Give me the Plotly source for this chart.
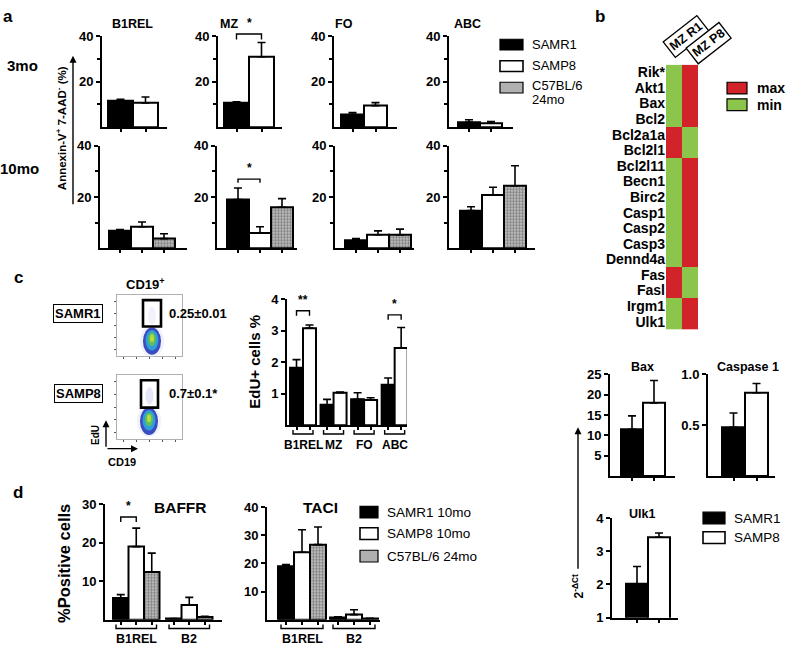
import plotly.graph_objects as go

W, H = 785, 655
FONT = "Liberation Sans"
GREEN, RED = "#8cc54b", "#d2232a"

# ---------------- data ----------------
a_cells = ["B1REL", "MZ", "FO", "ABC"]
a3_samr1 = [11.6, 10.7, 5.6, 2.2]
a3_samr1_err = [0.7, 0.5, 0.8, 1.1]
a3_samp8 = [10.7, 31.0, 9.5, 1.7]
a3_samp8_err = [2.6, 6.3, 1.3, 0.8]
a10_samr1 = [6.9, 19.0, 3.2, 14.7]
a10_samr1_err = [0.4, 4.5, 0.6, 1.5]
a10_samp8 = [8.4, 6.0, 5.3, 20.8]
a10_samp8_err = [1.9, 2.4, 1.5, 3.0]
a10_c57 = [3.8, 16.0, 5.3, 24.4]
a10_c57_err = [1.9, 3.4, 2.2, 7.8]
a_yticks = [20, 40]
a_minor = [10, 30]

genes = ["Rik*", "Akt1", "Bax", "Bcl2", "Bcl2a1a", "Bcl2l1", "Bcl2l11", "Becn1", "Birc2",
         "Casp1", "Casp2", "Casp3", "Dennd4a", "Fas", "Fasl", "Irgm1", "Ulk1"]
mz_r1 = [0, 0, 0, 0, 1, 1, 0, 0, 0, 0, 0, 0, 0, 1, 1, 0, 0]
mz_p8 = [1, 1, 1, 1, 0, 0, 1, 1, 1, 1, 1, 1, 1, 0, 0, 1, 1]
heat_cols = ["MZ R1", "MZ P8"]

c_cells = ["B1REL", "MZ", "FO", "ABC"]
c_samr1 = [1.82, 0.65, 0.82, 1.28]
c_samr1_err = [0.26, 0.17, 0.21, 0.22]
c_samp8 = [3.08, 1.03, 0.80, 2.45]
c_samp8_err = [0.10, 0.02, 0.07, 0.65]
c_yticks = [1, 2, 3, 4]
flow_text = ["0.25±0.01", "0.7±0.1*"]
flow_names = ["SAMR1", "SAMP8"]

d_cells = ["B1REL", "B2"]
baffr_samr1 = [5.6, 0.3]
baffr_samr1_err = [0.9, 0.0]
baffr_samp8 = [19.0, 3.8]
baffr_samp8_err = [4.8, 2.0]
baffr_c57 = [12.4, 0.7]
baffr_c57_err = [4.9, 0.15]
taci_samr1 = [19.0, 0.8]
taci_samr1_err = [0.6, 0.2]
taci_samp8 = [24.0, 1.8]
taci_samp8_err = [8.0, 1.7]
taci_c57 = [26.7, 0.4]
taci_c57_err = [6.3, 0.1]

bax = [11.5, 18.0]
bax_err = [3.3, 5.5]
casp1 = [0.48, 0.82]
casp1_err = [0.14, 0.09]
ulk1 = [2.02, 3.42]
ulk1_err = [0.52, 0.13]

# ---------------- helpers ----------------
fig = go.Figure()
shapes, annots, axes = [], [], {}
_n = [0]


def PX(x):
    return x / W


def PY(y):
    return 1 - y / H


def text(x, y, s, size=12, bold=True, xanchor="center", yanchor="middle", angle=0, **kw):
    annots.append(dict(x=PX(x), y=PY(y), xref="paper", yref="paper", text=s, showarrow=False,
                       xanchor=xanchor, yanchor=yanchor, textangle=angle,
                       font=dict(family=FONT, size=size, color="black",
                                 weight="bold" if bold else "normal"), **kw))


def arrow(x, y, ax, ay):
    annots.append(dict(x=PX(x), y=PY(y), xref="paper", yref="paper", ax=ax, ay=ay, text="",
                       showarrow=True, arrowhead=2, arrowsize=1, arrowwidth=1.4, arrowcolor="black"))


def rect(x0, y0, x1, y1, fill, line="black", lw=1.2):
    shapes.append(dict(type="rect", xref="paper", yref="paper", x0=PX(x0), x1=PX(x1),
                       y0=PY(y1), y1=PY(y0), fillcolor=fill, line=dict(color=line, width=lw)))


def path(points, lw=1.5, color="black"):
    d = "M " + " L ".join(f"{PX(x):.5f},{PY(y):.5f}" for x, y in points)
    shapes.append(dict(type="path", path=d, xref="paper", yref="paper",
                       line=dict(color=color, width=lw)))


def ellipse(cx, cy, rx, ry, fill, opacity=1.0):
    shapes.append(dict(type="circle", xref="paper", yref="paper", x0=PX(cx - rx), x1=PX(cx + rx),
                       y0=PY(cy + ry), y1=PY(cy - ry), fillcolor=fill, line=dict(width=0),
                       opacity=opacity))


def new_axes():
    _n[0] += 1
    n = _n[0]
    s = "" if n == 1 else str(n)
    return "x" + s, "y" + s, "xaxis" + s, "yaxis" + s


TICKFONT = dict(family=FONT, size=13, color="black", weight="bold")


class Panel:
    def __init__(self, axis_x, start_x, bw, end_x, base_y, top_y, ymin, ymax, yticks,
                 xticks, yticktext=None, minor=None):
        self.xa, self.ya, xk, yk = new_axes()
        self.axis_x, self.bw, self.base, self.top = axis_x, bw, base_y, top_y
        self.ymin, self.ymax = ymin, ymax
        self.rmin = -0.5 - (start_x - axis_x) / bw
        self.rmax = self.rmin + (end_x - axis_x) / bw
        axes[xk] = dict(domain=[PX(axis_x), PX(end_x)], range=[self.rmin, self.rmax], anchor=self.ya,
                        showline=True, linecolor="black", linewidth=2, ticks="outside", ticklen=3,
                        tickwidth=1.5, tickcolor="black", tickvals=xticks, showticklabels=False,
                        showgrid=False, zeroline=False, fixedrange=True)
        ya = dict(domain=[PY(base_y), PY(top_y)], range=[ymin, ymax], anchor=self.xa,
                  showline=True, linecolor="black", linewidth=2, ticks="outside", ticklen=4,
                  tickwidth=1.5, tickcolor="black", tickvals=yticks, tickfont=TICKFONT,
                  showgrid=False, zeroline=False, fixedrange=True)
        if yticktext:
            ya["ticktext"] = yticktext
        if minor:
            ya["minor"] = dict(tickvals=minor, ticks="outside", ticklen=3, tickwidth=1.5,
                               tickcolor="black", showgrid=False)
        axes[yk] = ya

    def X(self, v):
        return self.axis_x + (v - self.rmin) * self.bw

    def Y(self, v):
        return self.base - (v - self.ymin) / (self.ymax - self.ymin) * (self.base - self.top)


STYLE = {
    "samr1": dict(color="black"),
    "samp8": dict(color="white"),
    "c57": dict(color="#c0c0c0", pattern=dict(shape=".", fgcolor="#333333", bgcolor="#c8c8c8",
                                               size=3, solidity=0.5)),
}


def bars(p, xs, vals, errs, style):
    fig.add_trace(go.Bar(x=xs, y=vals, width=1,
                         marker=dict(**STYLE[style], line=dict(color="black", width=2)),
                         error_y=dict(type="data", symmetric=False, array=errs,
                                      arrayminus=[0] * len(errs), color="black",
                                      thickness=1.6, width=4),
                         xaxis=p.xa, yaxis=p.ya, showlegend=False, hoverinfo="skip"))


def sig(p, x1, x2, ytop, drop, label):
    X1, X2, Yt, Yb = p.X(x1), p.X(x2), p.Y(ytop), p.Y(ytop - drop)
    path([(X1, Yb), (X1, Yt), (X2, Yt), (X2, Yb)], lw=1.4)
    text((X1 + X2) / 2, Yt - 2, label, size=12, yanchor="bottom")


def group_brackets(p, starts, nbars, labels, y0, size):
    for g, lab in zip(starts, labels):
        x1 = p.X(g - 0.5) + 3
        x2 = p.X(g + nbars - 0.5) - 3
        path([(x1, y0), (x1, y0 + 4), (x2, y0 + 4), (x2, y0)], lw=1.4)
        text((x1 + x2) / 2, y0 + 15, lab, size=size)


# ---------------- panel a ----------------
text(8, 10, "a", size=17)
a_top = [(102, 108, 25, 167), (218, 224, 25, 282), (334, 341, 23, 397), (449, 458, 22, 513)]
a_bot = [(100, 109, 22, 187), (217, 227, 22, 297), (335, 345, 22, 414), (449, 460, 22, 535)]
a_title_x = [110, 218, 333, 452]
for j, cell in enumerate(a_cells):
    p = Panel(*a_top[j], 123, 30, 0, 40, a_yticks, [0, 1], minor=a_minor)
    bars(p, [0], [a3_samr1[j]], [a3_samr1_err[j]], "samr1")
    bars(p, [1], [a3_samp8[j]], [a3_samp8_err[j]], "samp8")
    text(a_title_x[j], 17, cell, size=12.5, xanchor="left")
    if cell == "MZ":
        sig(p, 0, 1, max(a3_samr1[j] + a3_samr1_err[j], a3_samp8[j] + a3_samp8_err[j]) + 3.7, 2.4, "*")
    q = Panel(*a_bot[j], 247, 142, 0, 40, a_yticks, [0, 1, 2], minor=a_minor)
    bars(q, [0], [a10_samr1[j]], [a10_samr1_err[j]], "samr1")
    bars(q, [1], [a10_samp8[j]], [a10_samp8_err[j]], "samp8")
    bars(q, [2], [a10_c57[j]], [a10_c57_err[j]], "c57")
    if cell == "MZ":
        sig(q, 0, 1, max(a10_samr1[j] + a10_samr1_err[j], a10_samp8[j] + a10_samp8_err[j]) + 3.5, 1.4, "*")

text(22, 60, "3mo", size=15)
text(19, 165, "10mo", size=15)
arrow(73, 50, 0, 150)
text(61, 124, "Annexin-V<sup>+</sup> 7-AAD<sup>-</sup> (%)", size=11.5, angle=-90)
# legend a
rect(500, 33, 523, 44, "black")
rect(500, 55, 523, 66, "white", lw=1.6)
rect(500, 77, 523, 88, "#b0b0b0")
text(530, 38, "SAMR1", size=13, bold=False, xanchor="left")
text(530, 60, "SAMP8", size=13, bold=False, xanchor="left")
text(530, 80, "C57BL/6", size=13, bold=False, xanchor="left")
text(530, 95, "24mo", size=13, bold=False, xanchor="left")

# ---------------- panel b ----------------
text(600, 10, "b", size=17)
hx, hy, hxk, hyk = new_axes()
fig.add_trace(go.Heatmap(z=[[r, q] for r, q in zip(mz_r1, mz_p8)], x=heat_cols, y=genes,
                         colorscale=[[0, GREEN], [1, RED]], zmin=0, zmax=1, showscale=False,
                         xaxis=hx, yaxis=hy, hoverinfo="skip"))
axes[hxk] = dict(domain=[PX(666), PX(698)], anchor=hy, showticklabels=False, showline=False,
                 showgrid=False, zeroline=False, ticks="", fixedrange=True)
axes[hyk] = dict(domain=[PY(330), PY(59)], anchor=hx, autorange="reversed", showline=False,
                 showgrid=False, zeroline=False, ticks="", fixedrange=True,
                 tickmode="array", tickvals=genes, ticktext=genes,
                 tickfont=dict(family=FONT, size=14, color="black", weight="bold"))
for cx, cy, lab in [(686, 30, heat_cols[0]), (708, 37, heat_cols[1])]:
    text(cx, cy, lab, size=12.5, angle=-38, bordercolor="black", borderwidth=1.3,
         borderpad=2, bgcolor="white")
rect(727, 77, 747, 89, RED)
rect(727, 94, 747, 106, GREEN)
text(755, 83, "max", size=14, xanchor="left")
text(755, 100, "min", size=14, xanchor="left")

# ---------------- panel c ----------------
text(18, 277, "c", size=17)
text(145, 283, "CD19<sup>+</sup>", size=13)
flow_frames = [(295, 357), (377, 442)]
gates = [(143, 300, 161, 327), (141, 382, 158, 410)]
blobs = [(152, 342), (149, 424)]
for k in range(2):
    fxa, fya, fxk, fyk = new_axes()
    fig.add_trace(go.Scatter(x=[], y=[], xaxis=fxa, yaxis=fya, showlegend=False))
    y0, y1 = flow_frames[k]
    axes[fxk] = dict(domain=[PX(117), PX(182)], range=[0, 5], anchor=fya, showline=True, mirror=True,
                     linecolor="#b0b0b0", linewidth=1, ticks="outside", ticklen=2, tickcolor="#555",
                     tickvals=[0.5, 1.5, 2.5, 3.5, 4.5], showticklabels=False, showgrid=False,
                     zeroline=False, fixedrange=True)
    axes[fyk] = dict(domain=[PY(y1), PY(y0)], range=[0, 5], anchor=fxa, showline=True, mirror=True,
                     linecolor="#b0b0b0", linewidth=1, ticks="outside", ticklen=2, tickcolor="#555",
                     tickvals=[0.5, 1.5, 2.5, 3.5, 4.5], showticklabels=False, showgrid=False,
                     zeroline=False, fixedrange=True)
    gx0, gy0, gx1, gy1 = gates[k]
    ellipse((gx0 + gx1) / 2, (gy0 + gy1) / 2 + 2, 4, 9, "#c6caef", 0.25 if k == 0 else 0.45)
    bx, by = blobs[k]
    ellipse(bx, by, 12, 16, "#dcdff6", 0.45)
    ellipse(bx, by, 9, 14, "#3a4cc0")
    ellipse(bx, by - 1, 6.5, 10.5, "#2f9ed8")
    ellipse(bx, by - 2, 4, 7, "#5cbf60")
    ellipse(bx, by - 3, 2, 4, "#b8dc3a")
    shapes.append(dict(type="rect", xref="paper", yref="paper", x0=PX(gx0), x1=PX(gx1),
                       y0=PY(gy1), y1=PY(gy0), line=dict(color="black", width=2.6)))
    text(167, (gy0 + gy1) / 2, flow_text[k], size=13, xanchor="left")
    text(78, (gy0 + gy1) / 2, flow_names[k], size=13, bordercolor="black", borderwidth=1,
         borderpad=1, bgcolor="white")
arrow(106, 423, 0, 28)
arrow(138, 452, -32, 0)
text(96, 438, "EdU", size=10, angle=-90)
text(122, 466, "CD19", size=11)

c_step = 2.35
pc = Panel(287, 290, 13, 407, 428, 299, 0, 4, c_yticks,
           [g * c_step + i for g in range(4) for i in range(2)])
bars(pc, [g * c_step for g in range(4)], c_samr1, c_samr1_err, "samr1")
bars(pc, [g * c_step + 1 for g in range(4)], c_samp8, c_samp8_err, "samp8")
sig(pc, 0, 1, c_samp8[0] + c_samp8_err[0] + 0.45, 0.16, "**")
sig(pc, 3 * c_step, 3 * c_step + 1, c_samp8[3] + c_samp8_err[3] + 0.4, 0.15, "*")
group_brackets(pc, [g * c_step for g in range(4)], 2, c_cells, 433, 12)
text(255, 363, "EdU+ cells %", size=15, angle=-90)

# ---------------- panel d ----------------
text(18, 497, "d", size=17)
b_step = 3.42
pb = Panel(105, 113, 15.5, 222, 627, 509, 0, 30, [10, 20, 30],
           [g * b_step + i for g in range(2) for i in range(3)])
bars(pb, [g * b_step for g in range(2)], baffr_samr1, baffr_samr1_err, "samr1")
bars(pb, [g * b_step + 1 for g in range(2)], baffr_samp8, baffr_samp8_err, "samp8")
bars(pb, [g * b_step + 2 for g in range(2)], baffr_c57, baffr_c57_err, "c57")
sig(pb, 0, 1, baffr_samp8[0] + baffr_samp8_err[0] + 2.9, 1.3, "*")
group_brackets(pb, [g * b_step for g in range(2)], 3, d_cells, 632, 12.5)
text(180, 512, "BAFFR", size=15.5)

t_step = 3.25
pt = Panel(267, 278, 16, 380, 627, 512, 0, 40, [10, 20, 30, 40],
           [g * t_step + i for g in range(2) for i in range(3)])
bars(pt, [g * t_step for g in range(2)], taci_samr1, taci_samr1_err, "samr1")
bars(pt, [g * t_step + 1 for g in range(2)], taci_samp8, taci_samp8_err, "samp8")
bars(pt, [g * t_step + 2 for g in range(2)], taci_c57, taci_c57_err, "c57")
group_brackets(pt, [g * t_step for g in range(2)], 3, d_cells, 632, 12.5)
text(320, 512, "TACI", size=15.5)
text(64, 570, "%Positive cells", size=16.5, angle=-90)
rect(360, 511, 378, 523, "black")
rect(360, 533, 378, 545, "white", lw=1.6)
rect(360, 556, 378, 568, "#b0b0b0")
text(385, 517, "SAMR1 10mo", size=13.5, bold=False, xanchor="left")
text(385, 539, "SAMP8 10mo", size=13.5, bold=False, xanchor="left")
text(385, 562, "C57BL/6 24mo", size=13.5, bold=False, xanchor="left")

# ---------------- qPCR panels ----------------
p1 = Panel(610, 621, 22, 675, 480, 376, 0, 25, [5, 10, 15, 20, 25], [0, 1])
bars(p1, [0], [bax[0]], [bax_err[0]], "samr1")
bars(p1, [1], [bax[1]], [bax_err[1]], "samp8")
text(642, 368, "Bax", size=12.5)
p2 = Panel(708, 722, 23, 775, 480, 376, 0, 1.0, [0.5, 1.0], [0, 1], yticktext=["0.5", "1.0"])
bars(p2, [0], [casp1[0]], [casp1_err[0]], "samr1")
bars(p2, [1], [casp1[1]], [casp1_err[1]], "samp8")
text(748, 368, "Caspase 1", size=12.5)
p3 = Panel(612, 626, 22, 678, 625, 523, 1, 4, [1, 2, 3, 4], [0, 1])
bars(p3, [0], [ulk1[0]], [ulk1_err[0]], "samr1")
bars(p3, [1], [ulk1[1]], [ulk1_err[1]], "samp8")
text(642, 519, "Ulk1", size=12.5)
arrow(578, 430, 0, 143)
text(578, 593, "2<sup>-ΔCt</sup>", size=12, angle=-90)
rect(703, 517, 725, 529, "black")
rect(703, 537, 725, 549, "white", lw=1.6)
text(732, 523, "SAMR1", size=13.5, bold=False, xanchor="left")
text(732, 543, "SAMP8", size=13.5, bold=False, xanchor="left")

fig.update_layout(width=W, height=H, margin=dict(l=0, r=0, t=0, b=0), autosize=False,
                  paper_bgcolor="white", plot_bgcolor="white", barmode="overlay",
                  shapes=shapes, annotations=annots, showlegend=False,
                  font=dict(family=FONT, color="black"), **axes)
fig.write_html("out.html", config={"displayModeBar": False},
               post_script="document.body.style.margin='0';document.body.style.overflow='hidden';")
